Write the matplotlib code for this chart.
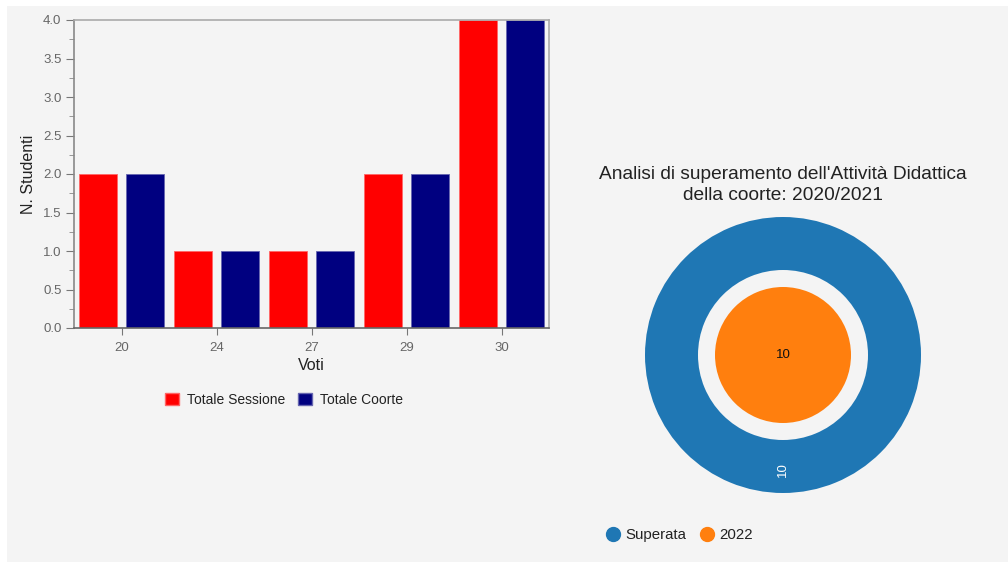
import matplotlib.pyplot as plt
from matplotlib.patches import Rectangle
from matplotlib.lines import Line2D
from matplotlib.ticker import MultipleLocator
import numpy as np

plt.rcParams['font.family'] = ['Liberation Sans', 'DejaVu Sans']

# grade distribution
voti = ["20", "24", "27", "29", "30"]
totale_sessione = [2, 1, 1, 2, 4]
totale_coorte = [2, 1, 1, 2, 4]

# pass analysis rings
ring_labels = ["Superata", "2022"]
ring_values = [10, 10]
ring_colors = ["#1f77b4", "#ff7f0e"]

W, H = 1008, 563
fig = plt.figure(figsize=(W / 100, H / 100), dpi=100)
fig.patch.set_facecolor("white")
fig.patches.append(Rectangle((7 / W, 1 / H), 1 - 7 / W, (557 - 1) / H,
                             transform=fig.transFigure, facecolor="#f4f4f4",
                             edgecolor="none", zorder=-10))

def box(x0, y0, x1, y1):
    return [x0 / W, 1 - y1 / H, (x1 - x0) / W, (y1 - y0) / H]

# --- bar chart ---
ax = fig.add_axes(box(74, 20, 549, 328))
ax.set_facecolor("#f4f4f4")
x = np.arange(len(voti))
off, bw = 0.245, 0.40
ax.bar(x - off, totale_sessione, bw, color="#ff0000", edgecolor="#ff6666", linewidth=0.6)
ax.bar(x + off, totale_coorte, bw, color="#000080", edgecolor="#6666b0", linewidth=0.6)
ax.set_xlim(-0.5, len(voti) - 0.5)
ax.set_ylim(0, 4)
ax.set_xticks(x)
ax.set_xticklabels(voti)
ax.yaxis.set_major_locator(MultipleLocator(0.5))
ax.yaxis.set_minor_locator(MultipleLocator(0.25))
ax.yaxis.set_major_formatter(plt.FuncFormatter(lambda v, p: f"{v:.1f}"))
ax.tick_params(axis="y", which="major", length=6, color="#777777", labelsize=9.5, labelcolor="#666666", pad=3)
ax.tick_params(axis="y", which="minor", length=3.5, color="#888888")
ax.tick_params(axis="x", length=5, color="#777777", labelsize=9.5, labelcolor="#666666", pad=5)
for s in ["top", "right"]:
    ax.spines[s].set_color("#aaaaaa")
ax.spines["left"].set_color("#888888")
ax.spines["bottom"].set_color("#666666")
for s in ax.spines.values():
    s.set_linewidth(1.2)
ax.set_xlabel("Voti", fontsize=11.5, color="#222222", labelpad=3)
ax.set_ylabel("N. Studenti", fontsize=11.5, color="#222222", labelpad=5)

handles = [Rectangle((0, 0), 1, 1, facecolor="#ff0000", edgecolor="#ff6666"),
           Rectangle((0, 0), 1, 1, facecolor="#000080", edgecolor="#6666b0")]
fig.legend(handles, ["Totale Sessione", "Totale Coorte"], loc="center",
           bbox_to_anchor=(284 / W, 1 - 400 / H), ncol=2, frameon=False,
           fontsize=10, handlelength=1.0, handleheight=1.0, handletextpad=0.6,
           columnspacing=0.9, labelcolor="#222222")

# --- nested donut ---
cx, cy, R = 783, 355, 138
pax = fig.add_axes(box(cx - R, cy - R, cx + R, cy + R))
pax.set_xlim(-1, 1)
pax.set_ylim(-1, 1)
pax.set_aspect("equal")
pax.axis("off")
r_in = 85 / R
r_core = 68 / R
pax.pie([ring_values[0]], radius=1.0, colors=[ring_colors[0]], startangle=90,
        wedgeprops=dict(width=1.0 - r_in, edgecolor="none"))
pax.pie([ring_values[1]], radius=r_core, colors=[ring_colors[1]], startangle=90,
        wedgeprops=dict(edgecolor="none"))
pax.set_xlim(-1, 1)
pax.set_ylim(-1, 1)
pax.text(0, -(1.0 + r_in) / 2 - 0.025, str(ring_values[0]), rotation=90, color="white",
         ha="center", va="center", fontsize=9.5)
pax.text(0, 0, str(ring_values[1]), color="#111111", ha="center", va="center", fontsize=9.5)

fig.text(cx / W, 1 - 185 / H, "Analisi di superamento dell'Attività Didattica\ndella coorte: 2020/2021",
         ha="center", va="center", fontsize=13.8, color="#222222", linespacing=1.3)

dots = [Line2D([], [], marker="o", linestyle="none", markersize=10,
               markerfacecolor=c, markeredgecolor=c) for c in ring_colors]
fig.legend(dots, ring_labels, loc="center", bbox_to_anchor=(680 / W, 1 - 535 / H),
           ncol=2, frameon=False, fontsize=10.8, handlelength=0.8, handletextpad=0.4,
           columnspacing=1.0, labelcolor="#222222")

fig.savefig("out.png", dpi=100, facecolor=fig.get_facecolor())
